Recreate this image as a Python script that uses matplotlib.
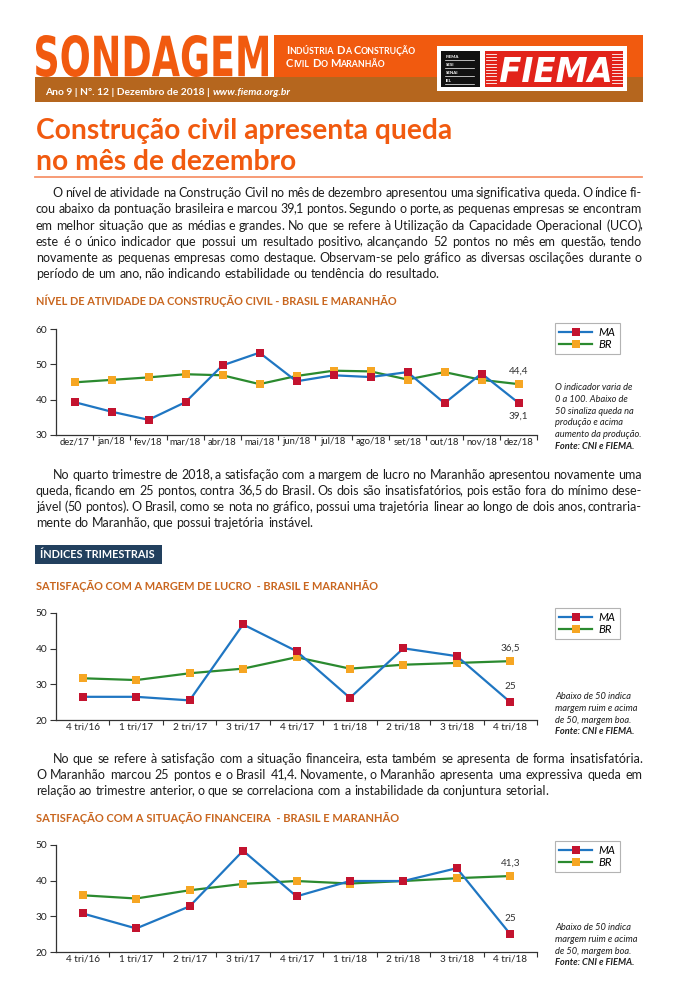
import re
import numpy as np
import matplotlib
matplotlib.use("Agg")
import matplotlib.pyplot as plt
from matplotlib.textpath import TextPath
from matplotlib.patches import PathPatch, Rectangle
from matplotlib.font_manager import FontProperties
from matplotlib.transforms import Affine2D
from matplotlib.ticker import FixedLocator

W, H = 677, 1000

# ------------------------------------------------------------------
# data read off the bulletin
# ------------------------------------------------------------------
meses = ['dez/17', 'jan/18', 'fev/18', 'mar/18', 'abr/18', 'mai/18', 'jun/18',
         'jul/18', 'ago/18', 'set/18', 'out/18', 'nov/18', 'dez/18']
atividade_ma = [39.3, 36.6, 34.3, 39.3, 49.7, 53.3, 45.2, 46.9, 46.4, 47.8, 39.0, 47.4, 39.1]
atividade_br = [44.9, 45.6, 46.3, 47.2, 46.9, 44.4, 46.7, 48.2, 48.0, 45.7, 47.8, 45.6, 44.4]

trimestres = ['4 tri/16', '1 tri/17', '2 tri/17', '3 tri/17', '4 tri/17',
              '1 tri/18', '2 tri/18', '3 tri/18', '4 tri/18']
lucro_ma = [26.5, 26.5, 25.5, 46.8, 39.3, 26.2, 40.1, 37.9, 25.0]
lucro_br = [31.7, 31.2, 33.1, 34.4, 37.6, 34.4, 35.5, 36.0, 36.5]
financ_ma = [30.8, 26.6, 32.8, 48.4, 35.6, 39.9, 39.9, 43.5, 25.0]
financ_br = [35.9, 35.0, 37.3, 39.1, 39.9, 39.2, 39.9, 40.7, 41.3]

par1 = [
    "O nível de atividade na Construção Civil no mês de dezembro apresentou uma significativa queda. O índice fi-",
    "cou abaixo da pontuação brasileira e marcou 39,1 pontos. Segundo o porte, as pequenas empresas se encontram",
    "em melhor situação que as médias e grandes. No que se refere à Utilização da Capacidade Operacional (UCO),",
    "este é o único indicador que possui um resultado positivo, alcançando 52 pontos no mês em questão, tendo",
    "novamente as pequenas empresas como destaque. Observam-se pelo gráfico as diversas oscilações durante o",
    "período de um ano, não indicando estabilidade ou tendência do resultado.",
]
par2 = [
    "No quarto trimestre de 2018, a satisfação com a margem de lucro no Maranhão apresentou novamente uma",
    "queda, ficando em 25 pontos, contra 36,5 do Brasil. Os dois são insatisfatórios, pois estão fora do mínimo dese-",
    "jável (50 pontos). O Brasil, como se nota no gráfico, possui uma trajetória linear ao longo de dois anos, contraria-",
    "mente do Maranhão, que possui trajetória instável.",
]
par3 = [
    "No que se refere à satisfação com a situação financeira, esta também se apresenta de forma insatisfatória.",
    "O Maranhão marcou 25 pontos e o Brasil 41,4. Novamente, o Maranhão apresenta uma expressiva queda em",
    "relação ao trimestre anterior, o que se correlaciona com a instabilidade da conjuntura setorial.",
]
nota1 = ["O indicador varia de", "0 a 100. Abaixo de", "50 sinaliza queda na",
         "produção e acima", "aumento da produção."]
nota2 = ["Abaixo de 50 indica", "margem ruim e acima", "de 50, margem boa."]

# colours
ORANGE = '#F15A0F'
BROWN = '#B5661E'
SECTION = '#C9661F'
NAVY = '#22405E'
BODY = '#1E1E1E'
BLUE = '#1F76C2'
GREEN = '#2B8A2F'
RED_MK = '#C3132F'
ORG_MK = '#F6A623'
FONT = 'Lato'

plt.rcParams['font.family'] = FONT

fig = plt.figure(figsize=(W / 100, H / 100), dpi=100)
bg = fig.add_axes([0, 0, 1, 1])
bg.set_xlim(0, W)
bg.set_ylim(H, 0)
bg.axis('off')
renderer = fig.canvas.get_renderer()

# small left kern before punctuation drawn as its own text
KERN = {',': 1.3, '.': 0.9}


def text_w(s, **kw):
    t = bg.text(0, 0, s, **kw)
    w = t.get_window_extent(renderer).width
    t.remove()
    return w


def fit_text(x, y, s, width, **kw):
    size = 10 * width / text_w(s, fontsize=10, **kw)
    return bg.text(x, y, s, fontsize=size, va='baseline', ha='left', **kw)


def path_text(s, x0, x1, ytop, ybot, color, **fp):
    tp = TextPath((0, 0), s, size=100, prop=FontProperties(**fp))
    bb = tp.get_extents()
    tr = (Affine2D().translate(-bb.x0, -bb.y0)
          .scale((x1 - x0) / bb.width, -(ybot - ytop) / bb.height)
          .translate(x0, ybot))
    bg.add_patch(PathPatch(tr.transform_path(tp), color=color, lw=0))


def runs(w):
    # punctuation drawn on its own so every word keeps the same pixel baseline
    return re.findall(r"[^,.()]+|[,.()]", w)


def word_layout(w, fs):
    xs, x = [], 0.0
    for k, r in enumerate(runs(w)):
        if k > 0:
            x -= KERN.get(r, 0.0)
        xs.append((x, r))
        x += text_w(r, fontsize=fs)
    return xs, x


def draw_word(x, y, w, fs, **kw):
    for dx, r in word_layout(w, fs)[0]:
        bg.text(x + dx, y, r, fontsize=fs, va='baseline', ha='left', **kw)


def paragraph(lines, x0, x1, y0, dy, indent, fontsize, **kw):
    space = text_w('a b', fontsize=fontsize) - text_w('ab', fontsize=fontsize)
    for i, line in enumerate(lines):
        y = y0 + i * dy
        xs = x0 + (indent if i == 0 else 0)
        words = line.split()
        fs = fontsize
        while True:
            widths = [word_layout(w, fs)[1] for w in words]
            gap = (x1 - xs - sum(widths)) / (len(words) - 1)
            if gap >= 2.2:
                break
            fs -= 0.1
        if i == len(lines) - 1:
            gap = space
        x = xs
        for w, wd in zip(words, widths):
            draw_word(x, y, w, fs, **kw)
            x += wd + gap


def small_caps(x, y, s, big, small, **kw):
    sp = text_w('n', fontsize=small, **kw) * 0.55
    for wd in s.split():
        bg.text(x, y, wd[0], fontsize=big, va='baseline', **kw)
        x += text_w(wd[0], fontsize=big, **kw)
        bg.text(x, y, wd[1:], fontsize=small, va='baseline', **kw)
        x += text_w(wd[1:], fontsize=small, **kw) + sp


# ------------------------------------------------------------------
# header
# ------------------------------------------------------------------
bg.add_patch(Rectangle((274, 35), 643 - 274, 42, color=ORANGE, lw=0))
bg.add_patch(Rectangle((35, 77), 643 - 35, 25, color=BROWN, lw=0))
path_text('SONDAGEM', 36, 268, 35, 77, ORANGE, family='DejaVu Sans', weight='bold')
bg.text(152, 56, 'SONDAGEM', fontsize=1, alpha=0, ha='center')
small_caps(286, 53.5, 'INDÚSTRIA DA CONSTRUÇÃO', 8.0, 6.3, color='white', weight='bold')
small_caps(286, 67, 'CIVIL DO MARANHÃO', 8.0, 6.3, color='white', weight='bold')

t = fit_text(45, 95, 'Ano 9 | Nº. 12 | Dezembro de 2018 | ', 168, color='white', weight='bold')
bg.text(45 + 168, 95, 'www.fiema.org.br', fontsize=t.get_fontsize(), color='white',
        weight='bold', style='italic', va='baseline')

# logo
bg.add_patch(Rectangle((437, 46), 190, 45, color='white', lw=0))
bg.add_patch(Rectangle((441, 51), 39, 36, color='#111111', lw=0))
for k, nm in enumerate(['FIEMA', 'SESI', 'SENAI', 'IEL']):
    yy = 58 + k * 8
    bg.text(446, yy, nm, fontsize=3.2, color='white', weight='bold', va='baseline')
    bg.plot([445, 474], [yy + 1.5, yy + 1.5], color='white', lw=0.5)
bg.add_patch(Rectangle((485, 51), 138, 36, color='#E2231A', lw=0))
for yy in np.arange(54, 86, 3.2):
    bg.plot([486, 496], [yy, yy], color='white', lw=0.6)
    bg.plot([612, 622], [yy, yy], color='white', lw=0.6)
path_text('FIEMA', 500, 610, 57, 82, 'white', family='DejaVu Sans', weight='bold', style='oblique')

# ------------------------------------------------------------------
# title and body text
# ------------------------------------------------------------------
tt = fit_text(36, 138.5, 'Construção civil apresenta queda', 417, color=ORANGE, weight='bold')
bg.text(36, 170, 'no mês de dezembro', fontsize=tt.get_fontsize(), color=ORANGE,
        weight='bold', va='baseline')
bg.plot([35, 642], [177, 177], color='#F7936A', lw=1.3)

paragraph(par1, 36, 642, 197.3, 16.1, 16.5, 9.0, color=BODY)
paragraph(par2, 36, 642, 479.3, 15.8, 16.5, 9.0, color=BODY)
paragraph(par3, 36, 642, 763.3, 15.9, 16.5, 9.0, color=BODY)

fit_text(36, 305, 'NÍVEL DE ATIVIDADE DA CONSTRUÇÃO CIVIL - BRASIL E MARANHÃO', 364,
         color=SECTION, weight='bold')
bg.add_patch(Rectangle((35, 545), 127, 18.5, color=NAVY, lw=0))
fit_text(40, 557.5, 'ÍNDICES TRIMESTRAIS', 115, color='white', weight='bold')
fit_text(36, 590, 'SATISFAÇÃO COM A MARGEM DE LUCRO  - BRASIL E MARANHÃO', 345,
         color=SECTION, weight='bold')
fit_text(36, 821.7, 'SATISFAÇÃO COM A SITUAÇÃO FINANCEIRA  - BRASIL E MARANHÃO', 363,
         color=SECTION, weight='bold')


# ------------------------------------------------------------------
# charts
# ------------------------------------------------------------------
def chart(top, bottom, cats, ma, br, ylo, yhi, ylab_br, ylab_ma, off_br, off_ma, xsize):
    ax = fig.add_axes([56 / W, 1 - bottom / H, (537 - 56) / W, (bottom - top) / H])
    ax.patch.set_visible(False)
    x = np.arange(len(cats))
    l_ma, = ax.plot(x, ma, color=BLUE, lw=1.6, marker='s', ms=5.4,
                    mfc=RED_MK, mec=RED_MK, mew=0, zorder=3, clip_on=False)
    l_br, = ax.plot(x, br, color=GREEN, lw=1.6, marker='s', ms=5.4,
                    mfc=ORG_MK, mec=ORG_MK, mew=0, zorder=2, clip_on=False)
    ax.set_xlim(-0.5, len(cats) - 0.5)
    ax.set_ylim(ylo, yhi)
    ax.set_yticks(np.arange(ylo, yhi + 1, 10))
    ax.set_xticks(x)
    ax.set_xticklabels(cats)
    ax.xaxis.set_minor_locator(FixedLocator(np.arange(0.5, len(cats), 1.0)))
    ax.tick_params(axis='x', which='major', length=0, pad=1.5, labelsize=xsize, labelcolor='#222222')
    ax.tick_params(axis='x', which='minor', length=3.5, width=0.8, color='#333333', direction='out')
    ax.tick_params(axis='y', length=4, width=0.8, color='#333333', pad=2.5,
                   labelsize=7.3, labelcolor='#222222')
    for s in ['top', 'right']:
        ax.spines[s].set_visible(False)
    for s in ['left', 'bottom']:
        ax.spines[s].set_color('#333333')
        ax.spines[s].set_linewidth(0.9)
    ax.annotate(ylab_br, (x[-1], br[-1]), xytext=(0, off_br), textcoords='offset points',
                ha='center', va='center', fontsize=7.2, color='#333333')
    ax.annotate(ylab_ma, (x[-1], ma[-1]), xytext=(0, off_ma), textcoords='offset points',
                ha='center', va='center', fontsize=7.2, color='#333333')
    return ax, l_ma, l_br


def legend_and_note(ax, l_ma, l_br, leg_top, note, note_y0):
    leg = ax.legend([l_ma, l_br], ['MA', 'BR'], loc='upper left',
                    bbox_to_anchor=(555 / W, 1 - leg_top / H), bbox_transform=fig.transFigure,
                    frameon=True, fancybox=False, prop=dict(family=FONT, style='italic', size=8.2),
                    handlelength=2.9, handletextpad=0.6, borderpad=0.35, labelspacing=0.12,
                    borderaxespad=0)
    leg.get_frame().set_edgecolor('#A0A0A0')
    leg.get_frame().set_linewidth(0.8)
    for k, ln in enumerate(note):
        bg.text(555, note_y0 + k * 11.8, ln, fontsize=6.7, style='italic', color=BODY, va='baseline')
    bg.text(555, note_y0 + len(note) * 11.8, 'Fonte: CNI e FIEMA.', fontsize=6.7, style='italic',
            weight='bold', color=BODY, va='baseline')


ax1, m1, b1 = chart(329, 435, meses, atividade_ma, atividade_br, 30, 60, '44,4', '39,1', 9, -9.5, 6.8)
legend_and_note(ax1, m1, b1, 323, nota1, 390)

ax2, m2, b2 = chart(613, 720, trimestres, lucro_ma, lucro_br, 20, 50, '36,5', '25', 9.5, 11.5, 7.2)
legend_and_note(ax2, m2, b2, 608, nota2, 699)

ax3, m3, b3 = chart(845, 952, trimestres, financ_ma, financ_br, 20, 50, '41,3', '25', 9.5, 11, 7.2)
legend_and_note(ax3, m3, b3, 841, nota2, 930)

fig.savefig('out.png', dpi=100, facecolor='white')
